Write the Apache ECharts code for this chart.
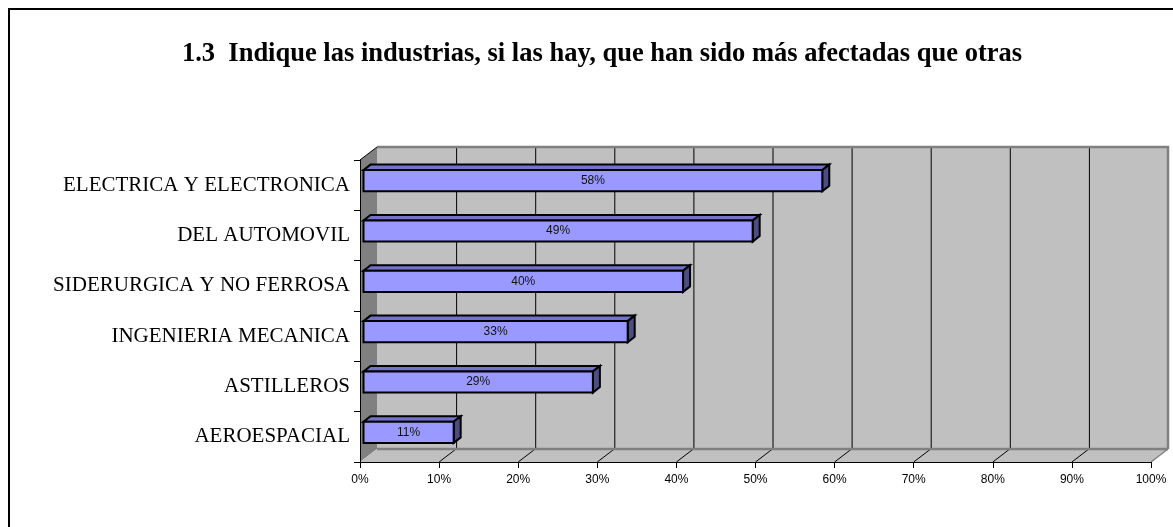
<!DOCTYPE html>
<html>
<head>
<meta charset="utf-8">
<script src="https://cdn.jsdelivr.net/npm/echarts@6/dist/echarts.min.js"></script>
<style>
html,body{margin:0;padding:0;background:#fff;}
#chart{width:1173px;height:527px;}
</style>
</head>
<body>
<div id="chart"></div>
<script>
const titleText = '1.3  Indique las industrias, si las hay, que han sido más afectadas que otras';
const categories = ['ELECTRICA Y ELECTRONICA', 'DEL AUTOMOVIL', 'SIDERURGICA Y NO FERROSA', 'INGENIERIA MECANICA', 'ASTILLEROS', 'AEROESPACIAL'];
const values = [58, 49.2, 40.4, 33.4, 29, 11.4];
const xTicks = [0, 10, 20, 30, 40, 50, 60, 70, 80, 90, 100];

const DEPTH_X = 17, DEPTH_Y = -13;

const chart = echarts.init(document.getElementById('chart'));

function renderWalls(params, api) {
  const cs = params.coordSys;
  const x0 = cs.x, x1 = cs.x + cs.width, y0 = cs.y, y1 = cs.y + cs.height;
  const dx = DEPTH_X, dy = DEPTH_Y;
  const children = [];
  children.push({type: 'rect', shape: {x: x0 + dx, y: y0 + dy, width: cs.width, height: cs.height},
    style: {fill: '#c0c0c0', stroke: null}});
  children.push({type: 'polygon', shape: {points: [[x0, y0], [x0 + dx, y0 + dy], [x0 + dx, y1 + dy], [x0, y1]]},
    style: {fill: '#808080', stroke: null}});
  children.push({type: 'polygon', shape: {points: [[x0, y1], [x0 + dx, y1 + dy], [x1 + dx, y1 + dy], [x1, y1]]},
    style: {fill: '#c0c0c0', stroke: null}});
  xTicks.forEach(function (t) {
    if (t === 0 || t === 100) return;
    const x = api.coord([t, 0])[0];
    children.push({type: 'line', shape: {x1: x + dx + 0.5, y1: y0 + dy, x2: x + dx + 0.5, y2: y1 + dy},
      style: {stroke: '#000', lineWidth: 1}});
    children.push({type: 'line', shape: {x1: x, y1: y1, x2: x + dx, y2: y1 + dy},
      style: {stroke: '#000', lineWidth: 1}});
  });
  children.push({type: 'polyline', shape: {points: [[x0 + dx, y0 + dy], [x1 + dx, y0 + dy], [x1 + dx, y1 + dy]]},
    style: {stroke: '#808080', lineWidth: 2.5, fill: null}});
  children.push({type: 'line', shape: {x1: x0 + dx, y1: y1 + dy, x2: x1 + dx, y2: y1 + dy},
    style: {stroke: '#808080', lineWidth: 2.5}});
  children.push({type: 'line', shape: {x1: x1, y1: y1, x2: x1 + dx, y2: y1 + dy},
    style: {stroke: '#808080', lineWidth: 1.5}});
  children.push({type: 'line', shape: {x1: x0, y1: y0, x2: x0 + dx, y2: y0 + dy},
    style: {stroke: '#000', lineWidth: 1}});
  return {type: 'group', children: children};
}

function renderBar(params, api) {
  const v = api.value(0), c = api.value(1);
  const p0 = api.coord([0, c]);
  const p1 = api.coord([v, c]);
  const band = api.size([0, 1])[1];
  const h = band * 0.42;
  const fx = 3.5, fy = -4.5, dx = 7, dy = -5.5;
  const yc = p0[1] + fy;
  const top = yc - h / 2, bottom = yc + h / 2;
  const xl = p0[0] + fx, xr = p1[0] + fx;
  const lw = 2;
  return {type: 'group', children: [
    {type: 'polygon', shape: {points: [[xl, top], [xl + dx, top + dy], [xr + dx, top + dy], [xr, top]]},
      style: {fill: '#7373cc', stroke: '#000', lineWidth: lw, lineJoin: 'miter'}},
    {type: 'polygon', shape: {points: [[xr, top], [xr + dx, top + dy], [xr + dx, bottom + dy], [xr, bottom]]},
      style: {fill: '#4d4d80', stroke: '#000', lineWidth: lw, lineJoin: 'miter'}},
    {type: 'rect', shape: {x: xl, y: top, width: xr - xl, height: h},
      style: {fill: '#9999ff', stroke: '#000', lineWidth: lw}},
    {type: 'text', style: {x: (xl + xr) / 2, y: yc, text: Math.round(v) + '%',
      align: 'center', verticalAlign: 'middle', fill: '#111',
      font: '12px "Liberation Sans", Arial, sans-serif'}}
  ]};
}

const option = {
  animation: false,
  backgroundColor: '#fff',
  title: {
    text: titleText,
    left: 597, textAlign: 'center', top: 36,
    textStyle: {fontFamily: '"Liberation Serif", "Times New Roman", serif', fontWeight: 'bold', fontSize: 26.5, color: '#000'}
  },
  graphic: [{
    type: 'rect', left: 6.5, top: 6.5, z: 100, silent: true,
    shape: {x: 0, y: 0, width: 1200, height: 600},
    style: {fill: null, stroke: '#000', lineWidth: 2}
  }],
  grid: {left: 360, top: 160, width: 791, height: 302, containLabel: false},
  xAxis: {
    type: 'value', min: 0, max: 100, interval: 10, z: 10,
    axisLine: {show: true, lineStyle: {color: '#000', width: 1}},
    axisTick: {show: true, length: 6, lineStyle: {color: '#000'}},
    splitLine: {show: false},
    axisLabel: {formatter: '{value}%', margin: 12, color: '#000', fontSize: 12, fontFamily: '"Liberation Sans", Arial, sans-serif'}
  },
  yAxis: {
    type: 'category', data: categories, inverse: true, z: 10,
    axisLine: {show: true, lineStyle: {color: '#000', width: 1}},
    axisTick: {show: true, length: 6, lineStyle: {color: '#000'}},
    splitLine: {show: false},
    axisLabel: {margin: 10, color: '#000', fontSize: 21, fontFamily: '"Liberation Serif", "Times New Roman", serif'}
  },
  series: [
    {type: 'custom', z: 1, renderItem: renderWalls, data: [[0, 0]], encode: {x: 0, y: 1}, silent: true, clip: false},
    {type: 'custom', z: 3, renderItem: renderBar, data: values.map(function (v, i) { return [v, i]; }), encode: {x: 0, y: 1}, clip: false}
  ]
};
chart.setOption(option);
</script>
</body>
</html>
